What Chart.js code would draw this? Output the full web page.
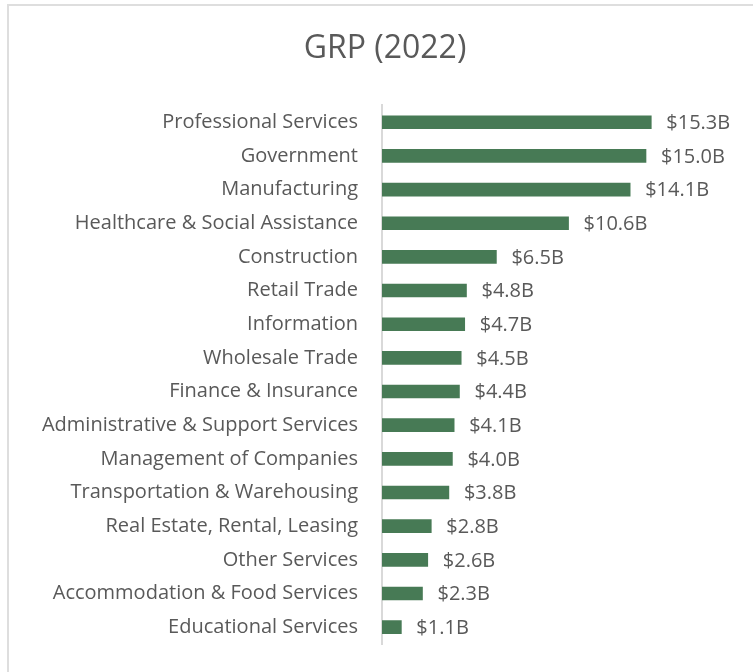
<!DOCTYPE html>
<html>
<head>
<meta charset="utf-8">
<script src="https://cdn.jsdelivr.net/npm/chart.js@4.4.1/dist/chart.umd.min.js"></script>
<style>
    html, body { margin: 0; padding: 0; background: #ffffff; overflow: hidden; }
    #frame {
        position: absolute; left: 7px; top: 4px; width: 760px; height: 680px;
        border: 2px solid #dedede; box-sizing: border-box;
    }
    #wrap { position: absolute; left: 0; top: 0; width: 753px; height: 672px; }
</style>
</head>
<body>
<div id="frame"></div>
<div id="wrap"><canvas id="grpChart" width="753" height="672"></canvas></div>
<script>
// Datos del gráfico (miles de millones de dólares)
const industries = [
    'Professional Services',
    'Government',
    'Manufacturing',
    'Healthcare & Social Assistance',
    'Construction',
    'Retail Trade',
    'Information',
    'Wholesale Trade',
    'Finance & Insurance',
    'Administrative & Support Services',
    'Management of Companies',
    'Transportation & Warehousing',
    'Real Estate, Rental, Leasing',
    'Other Services',
    'Accommodation & Food Services',
    'Educational Services'
];
const grpValues = [15.3, 15.0, 14.1, 10.6, 6.5, 4.8, 4.7, 4.5, 4.4, 4.1, 4.0, 3.8, 2.8, 2.6, 2.3, 1.1];
const chartTitle = 'GRP (2022)';

const textColor = '#595959';
const barColor = '#477a55';
const fontFamily = '"Open Sans", Lato, sans-serif';
const labelSize = 20;

// Plugin para etiquetas de valor al final de cada barra
const valueLabels = {
    id: 'valueLabels',
    afterDatasetsDraw(chart) {
        const ctx = chart.ctx;
        const meta = chart.getDatasetMeta(0);
        ctx.save();
        ctx.fillStyle = textColor;
        ctx.font = labelSize + 'px ' + fontFamily;
        ctx.textAlign = 'left';
        ctx.textBaseline = 'middle';
        meta.data.forEach((bar, i) => {
            const v = chart.data.datasets[0].data[i];
            ctx.fillText('$' + v.toFixed(1) + 'B', bar.x + 15, bar.y + 1);
        });
        ctx.restore();
    }
};

new Chart(document.getElementById('grpChart'), {
    type: 'bar',
    data: {
        labels: industries,
        datasets: [{
            data: grpValues,
            backgroundColor: barColor,
            borderWidth: 0,
            barThickness: 13
        }]
    },
    options: {
        responsive: false,
        animation: false,
        indexAxis: 'y',
        layout: { padding: { left: 36, right: 19, top: 10, bottom: 12 } },
        scales: {
            x: {
                display: false,
                min: 0,
                max: 20
            },
            y: {
                afterFit: (scale) => { scale.width = 346; },
                grid: { display: false },
                border: { display: true, color: '#d9d9d9', width: 2 },
                ticks: {
                    color: textColor,
                    padding: 16,
                    autoSkip: false,
                    font: { size: labelSize, family: fontFamily }
                }
            }
        },
        plugins: {
            legend: { display: false },
            tooltip: { enabled: false },
            title: {
                display: true,
                text: chartTitle,
                color: textColor,
                font: { size: 32, family: fontFamily, weight: 'normal' },
                padding: { top: 20, bottom: 37 }
            }
        }
    },
    plugins: [valueLabels]
});
</script>
</body>
</html>
